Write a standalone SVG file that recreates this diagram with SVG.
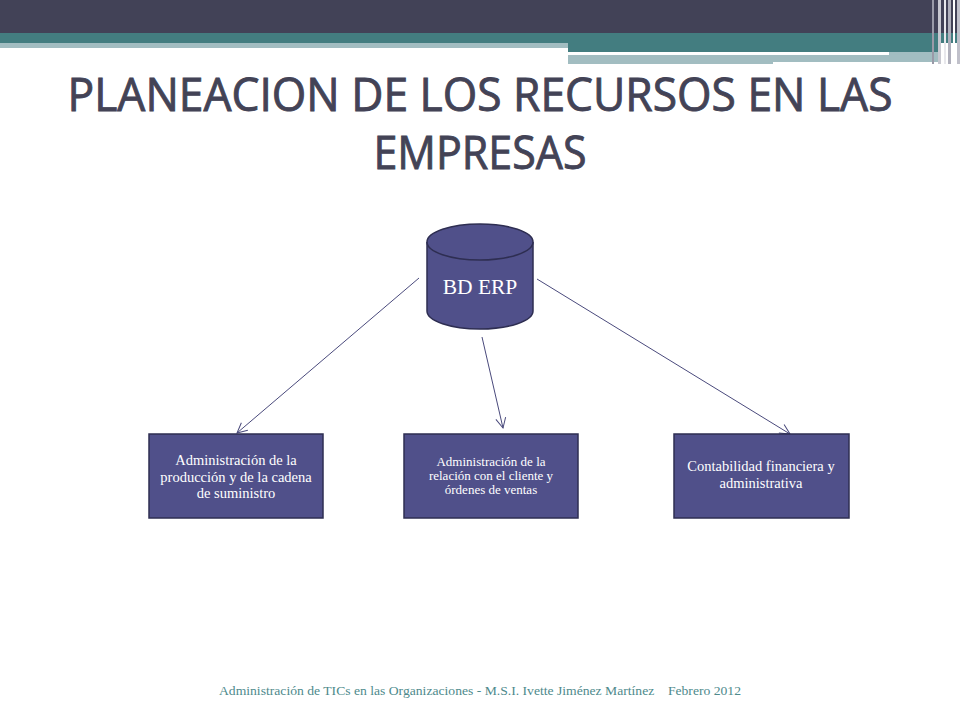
<svg xmlns="http://www.w3.org/2000/svg" width="960" height="720" viewBox="0 0 960 720">
<defs>
<style>
.box{fill:#50508a;stroke:#2e2e52;stroke-width:1.5}
.bt{font-family:"Liberation Serif","DejaVu Serif",serif;fill:#ffffff;text-anchor:middle}
.con{stroke:#4a4a7c;stroke-width:1;fill:none}
.ttl{font-family:"Open Sans","DejaVu Sans",sans-serif;font-size:46px;font-weight:400;fill:#434356;stroke:#434356;stroke-width:0.9;text-anchor:middle}
</style>
<marker id="arr" viewBox="0 0 12 12" refX="11" refY="6" markerWidth="12" markerHeight="12" markerUnits="userSpaceOnUse" orient="auto">
<path d="M1,1 L11,6 L1,11" fill="none" stroke="#4a4a7c" stroke-width="1"/>
</marker>
</defs>
<rect width="960" height="720" fill="#ffffff"/>
<g id="header">
<rect x="0" y="0" width="960" height="33" fill="#424257"/>
<rect x="0" y="33" width="960" height="10" fill="#437d80"/>
<rect x="0" y="43" width="568" height="5" fill="#a2bdc1"/>
<rect x="568" y="43" width="372" height="9" fill="#437d80"/>
<rect x="568" y="52" width="372" height="12" fill="#a2bdc1"/>
<rect x="568" y="52" width="321" height="3" fill="#ffffff"/>
<rect x="773" y="62" width="167" height="2" fill="#ffffff"/>
<rect x="932" y="0" width="2" height="64" fill="#9a9aa8"/>
<rect x="938" y="0" width="3" height="64" fill="#c8c8d0"/>
<rect x="944" y="0" width="2" height="64" fill="#e8e8ec"/>
<rect x="948" y="0" width="3" height="64" fill="#b0b0bc"/>
<rect x="953" y="0" width="2" height="64" fill="#ffffff"/>
<rect x="957" y="0" width="3" height="64" fill="#c0c0ca"/>
</g>
<g id="title">
<text class="ttl" x="480" y="111" textLength="825" lengthAdjust="spacingAndGlyphs">PLANEACION DE LOS RECURSOS EN LAS</text>
<text class="ttl" x="480" y="169" textLength="213" lengthAdjust="spacingAndGlyphs">EMPRESAS</text>
</g>
<g id="connectors">
<line class="con" x1="419" y1="278" x2="237" y2="433" marker-end="url(#arr)"/>
<line class="con" x1="482" y1="337" x2="503" y2="428" marker-end="url(#arr)"/>
<line class="con" x1="537" y1="279" x2="790" y2="434" marker-end="url(#arr)"/>
</g>
<g id="bd-erp">
<path d="M427,242 L427,311 A53,18 0 0 0 533,311 L533,242" fill="#50508a" stroke="#2e2e52" stroke-width="1.5"/>
<ellipse cx="480" cy="242" rx="53" ry="18" fill="#50508a" stroke="#2e2e52" stroke-width="1.5"/>
<text class="bt" x="480" y="294" font-size="21.5">BD ERP</text>
</g>
<g id="node-produccion">
<rect class="box" x="149" y="434" width="174" height="84"/>
<text class="bt" font-size="14.5"><tspan x="236" y="465">Administración de la</tspan><tspan x="236" y="482">producción y de la cadena</tspan><tspan x="236" y="498">de suministro</tspan></text>
</g>
<g id="node-cliente">
<rect class="box" x="404" y="434" width="174" height="84"/>
<text class="bt" font-size="13"><tspan x="491" y="466">Administración de la</tspan><tspan x="491" y="480">relación con el cliente y</tspan><tspan x="491" y="494">órdenes de ventas</tspan></text>
</g>
<g id="node-contabilidad">
<rect class="box" x="674" y="434" width="175" height="84"/>
<text class="bt" font-size="14.5"><tspan x="761" y="471">Contabilidad financiera y</tspan><tspan x="761" y="488">administrativa</tspan></text>
</g>
<g id="footer">
<text x="480" y="695" font-family="'Liberation Serif','DejaVu Serif',serif" font-size="12.5" fill="#4e8a8c" text-anchor="middle" textLength="522" lengthAdjust="spacingAndGlyphs" xml:space="preserve">Administración de TICs en las Organizaciones - M.S.I. Ivette Jiménez Martínez    Febrero 2012</text>
</g>
</svg>
